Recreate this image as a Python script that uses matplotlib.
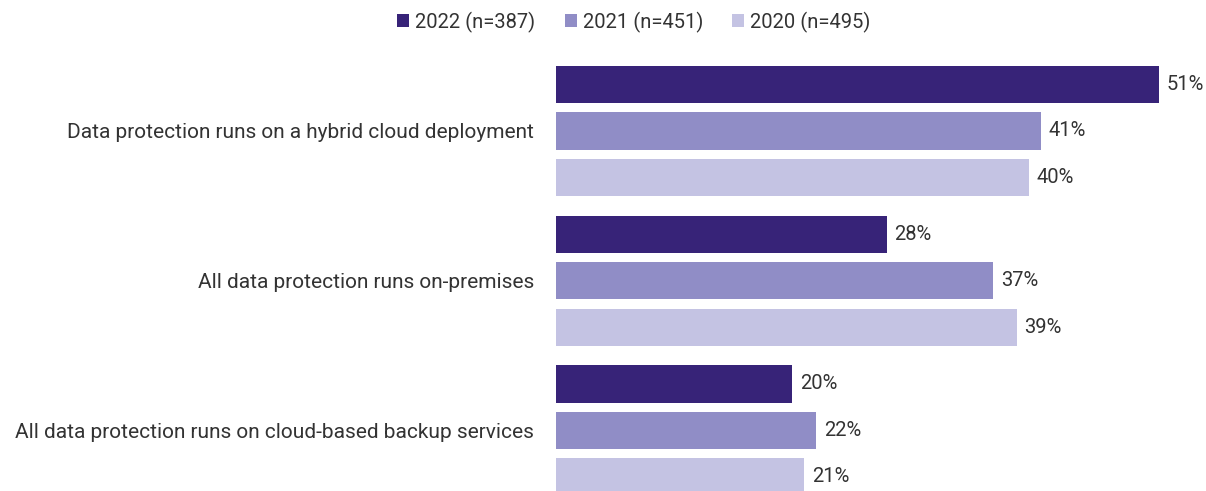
import matplotlib
matplotlib.use("Agg")
import matplotlib.pyplot as plt
from matplotlib.patches import Patch

categories = [
    "Data protection runs on a hybrid cloud deployment",
    "All data protection runs on-premises",
    "All data protection runs on cloud-based backup services",
]
series_names = ["2022 (n=387)", "2021 (n=451)", "2020 (n=495)"]
values_2022 = [51, 28, 20]
values_2021 = [41, 37, 22]
values_2020 = [40, 39, 21]

colors = ["#372378", "#908dc6", "#c4c3e3"]
text_color = "#333333"

plt.rcParams["font.family"] = ["Roboto", "DejaVu Sans"]

fig = plt.figure(figsize=(12.06, 4.91), dpi=100)
# axes spans from bar baseline to right edge, full height
ax = fig.add_axes([556 / 1206, 0, 650 / 1206, 1])

group_pitch = 3.22
bar_h = 0.8
all_series = [values_2022, values_2021, values_2020]
for s, vals in enumerate(all_series):
    ys = [g * group_pitch + (s - 1) for g in range(len(categories))]
    ax.barh(ys, vals, height=bar_h, color=colors[s], edgecolor="none")
    for y, v in zip(ys, vals):
        ax.text(v + 0.65, y, f"{v}%", va="center", ha="left",
                fontsize=14.5, color=text_color)

ax.set_xlim(0, 55)
ax.set_ylim(7.742, -2.817)
ax.set_yticks([g * group_pitch for g in range(len(categories))])
ax.set_yticklabels(categories, fontsize=15, color=text_color)
ax.tick_params(axis="y", length=0, pad=16)
ax.set_xticks([])
for sp in ax.spines.values():
    sp.set_visible(False)

handles = [Patch(facecolor=c, edgecolor="none") for c in colors]
fig.legend(handles, series_names, loc="center", bbox_to_anchor=(634 / 1206, 1 - 22 / 491),
           ncol=3, frameon=False, fontsize=14.5, handlelength=0.6, handleheight=0.6,
           handletextpad=0.3, columnspacing=1.45, labelcolor=text_color)

fig.savefig("out.png", dpi=100)
